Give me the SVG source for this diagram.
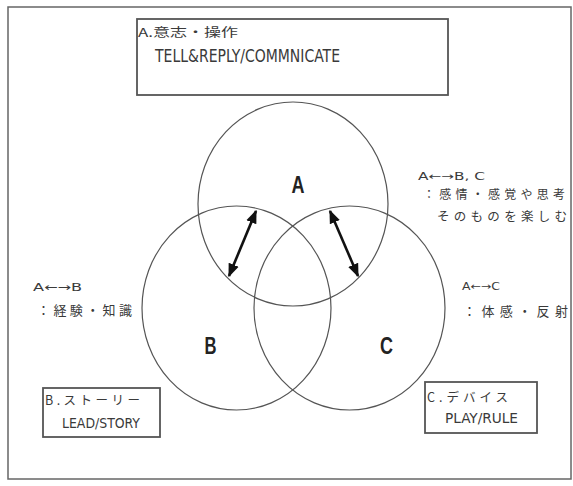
<svg xmlns="http://www.w3.org/2000/svg" width="573" height="486" viewBox="0 0 573 486">
<defs>
<style>
.frame{fill:none;stroke:#666;stroke-width:1.5}
.box{fill:#fff;stroke:#555;stroke-width:1.8}
.ring{fill:none;stroke:#555;stroke-width:1.2}
.jp{font-family:"Noto Sans CJK JP","DejaVu Sans",sans-serif;fill:#3a3a3a}
.lat{font-family:"DejaVu Sans Condensed","Liberation Sans",sans-serif;fill:#3a3a3a}
.big{font-family:"Liberation Sans",sans-serif;font-weight:bold;fill:#222;font-size:23px}
.arrow{stroke:#111;stroke-width:2.6;fill:none;marker-start:url(#ah);marker-end:url(#ah)}
</style>
<marker id="ah" viewBox="0 0 10 10" refX="9" refY="5" markerWidth="5.2" markerHeight="5.2" orient="auto-start-reverse" markerUnits="strokeWidth">
<path d="M0,1 L10,5 L0,9 Z" fill="#111"/>
</marker>
</defs>
<rect id="frame" class="frame" x="8" y="7" width="563" height="472"/>

<g id="circleA"><ellipse class="ring" cx="293" cy="204" rx="95" ry="102"/><text class="big" x="298" y="193" text-anchor="middle" textLength="13" lengthAdjust="spacingAndGlyphs">A</text></g>
<g id="circleB"><ellipse class="ring" cx="236.5" cy="308" rx="94.5" ry="102"/><text class="big" x="210.5" y="354" text-anchor="middle" textLength="12" lengthAdjust="spacingAndGlyphs">B</text></g>
<g id="circleC"><ellipse class="ring" cx="349.5" cy="308" rx="95.5" ry="102"/><text class="big" x="386.5" y="354" text-anchor="middle" textLength="13" lengthAdjust="spacingAndGlyphs">C</text></g>

<g id="connectors">
<line class="arrow" x1="229" y1="276" x2="256" y2="211"/>
<line class="arrow" x1="358" y1="276" x2="330" y2="211"/>
</g>

<g id="boxA">
<rect class="box" x="137" y="19" width="311" height="76"/>
<text class="jp" x="138" y="37" font-size="12" textLength="100" lengthAdjust="spacingAndGlyphs">A.意志・操作</text>
<text class="lat" x="155" y="62" font-size="17" textLength="185" lengthAdjust="spacingAndGlyphs">TELL&amp;REPLY/COMMNICATE</text>
</g>

<g id="labelABC">
<text class="lat" x="418" y="180" font-size="10" textLength="67" lengthAdjust="spacingAndGlyphs">A←→B, C</text>
<text class="jp" x="423" y="199" font-size="12" textLength="142" lengthAdjust="spacing">：感情・感覚や思考</text>
<text class="jp" x="437" y="221" font-size="12.5" textLength="130" lengthAdjust="spacing">そのものを楽しむ</text>
</g>

<g id="labelAB">
<text class="lat" x="33" y="291" font-size="11" textLength="49" lengthAdjust="spacingAndGlyphs">A←→B</text>
<text class="jp" x="37" y="315" font-size="13" textLength="95" lengthAdjust="spacing">：経験・知識</text>
</g>

<g id="labelAC">
<text class="lat" x="462" y="290" font-size="10" textLength="38" lengthAdjust="spacingAndGlyphs">A←→C</text>
<text class="jp" x="463" y="316" font-size="13" textLength="105" lengthAdjust="spacing">：体感・反射</text>
</g>

<g id="boxB">
<rect class="box" x="43" y="388" width="117" height="49"/>
<text class="jp" x="45" y="405" font-size="12.5" textLength="95" lengthAdjust="spacing">B.ストーリー</text>
<text class="lat" x="62" y="428" font-size="14" textLength="78" lengthAdjust="spacingAndGlyphs">LEAD/STORY</text>
</g>

<g id="boxC">
<rect class="box" x="425" y="382" width="112" height="51"/>
<text class="jp" x="427" y="402" font-size="12.5" textLength="81" lengthAdjust="spacing">C.デバイス</text>
<text class="lat" x="445" y="423" font-size="14" textLength="73" lengthAdjust="spacingAndGlyphs">PLAY/RULE</text>
</g>
</svg>
